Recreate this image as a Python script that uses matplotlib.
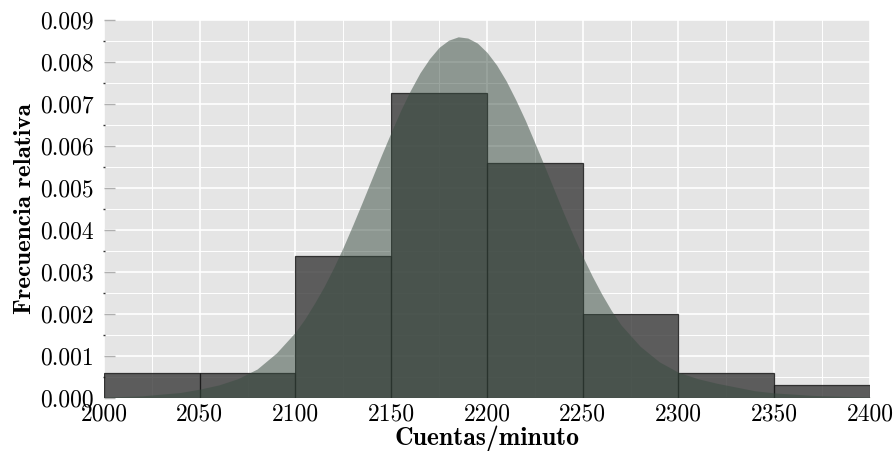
import matplotlib
matplotlib.use("Agg")
import matplotlib.pyplot as plt
from matplotlib.ticker import MultipleLocator

# Histogram data (relative frequency per unit)
bin_edges = [2000, 2050, 2100, 2150, 2200, 2250, 2300, 2350, 2400]
rel_freq = [0.00058, 0.00058, 0.00337, 0.00725, 0.00560, 0.00200, 0.00058, 0.00029]

# Fitted density curve
curve_x = [2000, 2020, 2040, 2050, 2060, 2070, 2080, 2090, 2100, 2105, 2110, 2115,
           2120, 2125, 2130, 2135, 2140, 2145, 2150, 2155, 2160, 2165, 2170, 2175,
           2180, 2185, 2190, 2195, 2200, 2205, 2210, 2215, 2220, 2225, 2230, 2235,
           2240, 2245, 2250, 2255, 2260, 2265, 2270, 2280, 2290, 2300, 2310, 2320,
           2330, 2340, 2350, 2370, 2400]
curve_y = [0.00001, 0.00004, 0.00012, 0.00020, 0.00030, 0.00045, 0.00068, 0.00106,
           0.00156, 0.00188, 0.00225, 0.00265, 0.00310, 0.00359, 0.00412, 0.00467,
           0.00523, 0.00579, 0.00633, 0.00685, 0.00732, 0.00774, 0.00808, 0.00835,
           0.00852, 0.00860, 0.00857, 0.00845, 0.00823, 0.00793, 0.00755, 0.00710,
           0.00661, 0.00607, 0.00552, 0.00496, 0.00440, 0.00387, 0.00336, 0.00289,
           0.00246, 0.00207, 0.00173, 0.00122, 0.00085, 0.00060, 0.00045, 0.00034,
           0.00025, 0.00016, 0.00011, 0.00005, 0.00001]

y_ticks = [0.000, 0.001, 0.002, 0.003, 0.004, 0.005, 0.006, 0.007, 0.008, 0.009]
y_ticklabels = ["0.000", "0.001", "0.002", "0.003", "0.004", "0.005",
                "0.006", "0.007", "0.008", "0.009"]
x_ticks = [2000, 2050, 2100, 2150, 2200, 2250, 2300, 2350, 2400]
x_ticklabels = ["2000", "2050", "2100", "2150", "2200", "2250", "2300", "2350", "2400"]

plt.rcParams["font.family"] = ["cmr10", "DejaVu Serif"]
plt.rcParams["axes.unicode_minus"] = False
plt.rcParams["mathtext.fontset"] = "cm"

fig = plt.figure(figsize=(8.96, 4.51), dpi=100)
ax = fig.add_axes([0.116, 0.1186, 0.855, 0.837])
ax.set_facecolor("#e5e5e5")
for s in ax.spines.values():
    s.set_visible(False)

widths = [bin_edges[i + 1] - bin_edges[i] for i in range(len(rel_freq))]
ax.bar(bin_edges[:-1], rel_freq, width=widths, align="edge",
       color="#3a3a3a", alpha=0.8, edgecolor="#151515", linewidth=0.9, zorder=2)

ax.fill_between(curve_x, 0, curve_y, color="#374b3f", alpha=0.5, linewidth=0, zorder=3)

ax.set_xlim(2000, 2400)
ax.set_ylim(0, 0.009)
ax.set_xticks(x_ticks)
ax.set_xticklabels(x_ticklabels)
ax.set_yticks(y_ticks)
ax.set_yticklabels(y_ticklabels)
ax.xaxis.set_minor_locator(MultipleLocator(25))
ax.yaxis.set_minor_locator(MultipleLocator(0.0005))

ax.grid(True, which="major", color="white", linewidth=1.2, zorder=0)
ax.grid(True, which="minor", color="white", linewidth=0.7, zorder=0)
ax.set_axisbelow(True)

ax.tick_params(axis="x", which="both", length=0, pad=4, labelsize=17)
ax.tick_params(axis="y", which="major", direction="in", length=8, width=1,
               color="#b0b0b0", pad=7, labelsize=17)
ax.tick_params(axis="y", which="minor", direction="inout", length=2, width=1,
               color="#333333")

ax.set_xlabel("Cuentas/minuto", fontsize=18.5, family=["cmb10", "DejaVu Serif"], labelpad=0)
ax.set_ylabel("Frecuencia relativa", fontsize=18, family=["cmb10", "DejaVu Serif"], labelpad=3)

fig.savefig("out.png", dpi=100)
